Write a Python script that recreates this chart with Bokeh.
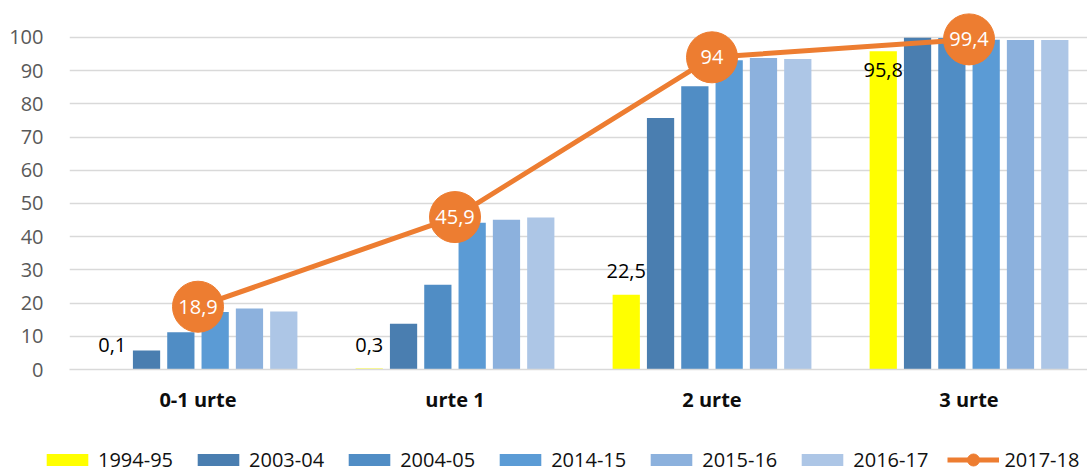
from bokeh.plotting import figure
from bokeh.layouts import column
from bokeh.models import Range1d, FixedTicker, ColumnDataSource, Legend, LegendItem
from bokeh.embed import file_html
from bokeh.resources import INLINE
from bokeh.core.properties import value

# ---------------- data ----------------
categories = ["0-1 urte", "urte 1", "2 urte", "3 urte"]
series_names = ["1994-95", "2003-04", "2004-05", "2014-15", "2015-16", "2016-17"]
s1994_95 = [0.1, 0.3, 22.5, 95.8]
s2003_04 = [5.7, 13.8, 75.7, 99.9]
s2004_05 = [11.2, 25.5, 85.3, 99.8]
s2014_15 = [17.3, 44.2, 93.1, 99.3]
s2015_16 = [18.4, 45.1, 93.8, 99.2]
s2016_17 = [17.5, 45.8, 93.5, 99.2]
line_name = "2017-18"
s2017_18 = [18.9, 45.9, 94.0, 99.4]
yellow_label_place = ["above", "above", "above", "inside"]
y_ticks = [0, 10, 20, 30, 40, 50, 60, 70, 80, 90, 100]

# ---------------- styles ----------------
bar_colors = ["#FFFF00", "#4A7EB0", "#508DC5", "#5B9BD5", "#8CB1DD", "#ADC6E6"]
line_color = "#ED7D31"
FONT = "Open Sans"
pitch = 0.1335
bar_w = 0.106

def fmt(v):
    return ("%g" % v).replace(".", ",")

p = figure(width=1087, height=440,
           x_range=Range1d(-0.5, 3.461), y_range=Range1d(0, 108.1),
           output_backend="svg", toolbar_location=None,
           min_border_left=69, min_border_right=0, min_border_top=10,
           min_border_bottom=71)
p.frame_align = False
p.outline_line_color = None
p.xgrid.grid_line_color = None
p.ygrid.grid_line_color = "#D9D9D9"
p.ygrid.grid_line_width = 1.5

p.yaxis.ticker = FixedTicker(ticks=y_ticks)
p.yaxis.axis_line_color = None
p.yaxis.major_tick_line_color = None
p.yaxis.minor_tick_line_color = None
p.yaxis.major_label_standoff = 20
p.yaxis.major_label_text_font = FONT
p.yaxis.major_label_text_font_size = "20px"
p.yaxis.major_label_text_color = "#595959"

p.xaxis.ticker = FixedTicker(ticks=list(range(len(categories))))
p.xaxis.major_label_overrides = {i: c for i, c in enumerate(categories)}
p.xaxis.axis_line_color = "#D9D9D9"
p.xaxis.axis_line_width = 1.5
p.xaxis.major_tick_line_color = None
p.xaxis.minor_tick_line_color = None
p.xaxis.major_label_standoff = 10
p.xaxis.major_label_text_font = FONT
p.xaxis.major_label_text_font_size = "20px"
p.xaxis.major_label_text_font_style = "bold"
p.xaxis.major_label_text_color = "#0D0D0D"

all_series = [s1994_95, s2003_04, s2004_05, s2014_15, s2015_16, s2016_17]
for i, (name, vals, col) in enumerate(zip(series_names, all_series, bar_colors)):
    xs = [g + (i - 2.5) * pitch for g in range(len(categories))]
    src = ColumnDataSource(dict(x=xs, top=vals))
    p.vbar(x="x", top="top", width=bar_w, bottom=0, source=src,
           fill_color=col, line_color=None)

# labels on yellow series
xs0 = [g + (0 - 2.5) * pitch for g in range(len(categories))]
lab_y = [v + 7.2 if pl == "above" else v - 5.7 for v, pl in zip(s1994_95, yellow_label_place)]
p.text(x=xs0, y=lab_y, text=[fmt(v) for v in s1994_95],
       text_font=value(FONT), text_font_size="20px", text_color="#000000",
       text_align="center", text_baseline="middle")

# line series
lx = list(range(len(categories)))
p.line(lx, s2017_18, line_color=line_color, line_width=5)
p.scatter(lx, s2017_18, size=51, fill_color=line_color, line_color=line_color)
p.text(x=lx, y=s2017_18, text=[fmt(v) for v in s2017_18],
       text_font=value(FONT), text_font_size="20px", text_color="#FFFFFF",
       text_align="center", text_baseline="middle")

# ---------------- legend strip ----------------
lf = figure(width=1087, height=33, x_range=Range1d(0, 1), y_range=Range1d(0, 1),
            output_backend="svg", toolbar_location=None,
            x_axis_location=None, y_axis_location=None,
            min_border_left=0, min_border_right=0, min_border_top=0, min_border_bottom=0)
lf.frame_align = False
lf.outline_line_color = None
lf.xgrid.grid_line_color = None
lf.ygrid.grid_line_color = None
items = []
for name, col in zip(series_names, bar_colors):
    # legend swatches only: one point kept below the visible y range
    r = lf.vbar(x=[0.5], bottom=[-3], top=[-2], width=0.1, fill_color=col, line_color=None)
    items.append(LegendItem(label=name, renderers=[r]))
lr = lf.line(x=[0.4, 0.6], y=[-5, -5], line_color=line_color, line_width=5)
er = lf.ellipse(x=[0.5], y=[-5], width=14, height=14, width_units="screen",
                height_units="screen", fill_color=line_color, line_color=line_color)
items.append(LegendItem(label=line_name, renderers=[lr, er]))

legend = Legend(items=items, orientation="horizontal",
                location=(41, 0), padding=0, margin=0,
                border_line_color=None, background_fill_alpha=0,
                glyph_width=52, glyph_height=15, label_standoff=5, spacing=19,
                label_text_font=FONT, label_text_font_size="20px",
                label_text_color="#111111")
lf.add_layout(legend, "center")

open("out.html", "w").write(file_html(column(p, lf, spacing=0), INLINE))
